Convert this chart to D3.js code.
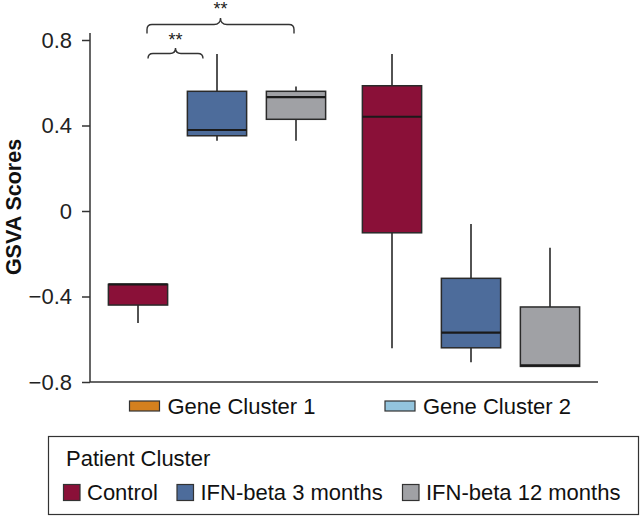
<!DOCTYPE html>
<html>
<head>
<meta charset="utf-8">
<script src="https://cdn.jsdelivr.net/npm/d3@7"></script>
<style>
  html, body { margin: 0; padding: 0; background: #fff; }
  svg { display: block; font-family: "Liberation Sans", Arial, Helvetica, sans-serif; }
</style>
</head>
<body>
<svg id="chart" width="640" height="516"></svg>
<script>
// ---------- data ----------
const geneClusters = ["Gene Cluster 1", "Gene Cluster 2"];
const patientClusters = ["Control", "IFN-beta 3 months", "IFN-beta 12 months"];
const patientColors = ["#8A1038", "#4D6C9B", "#A0A1A5"];
const geneColors = ["#D4801E", "#93C4DD"];
const yTicks = [0.8, 0.4, 0, -0.4, -0.8];
const yTickLabels = ["0.8", "0.4", "0", "\u22120.4", "\u22120.8"];

// per box, order: GC1 (Control, 3m, 12m), GC2 (Control, 3m, 12m)
const boxGene    = ["Gene Cluster 1","Gene Cluster 1","Gene Cluster 1","Gene Cluster 2","Gene Cluster 2","Gene Cluster 2"];
const boxPatient = ["Control","IFN-beta 3 months","IFN-beta 12 months","Control","IFN-beta 3 months","IFN-beta 12 months"];
const whiskerLow  = [-0.524, 0.329, 0.329, -0.642, -0.708, -0.727];
const quart1      = [-0.440, 0.352, 0.429, -0.102, -0.640, -0.727];
const medians     = [-0.343, 0.379, 0.533,  0.441, -0.569, -0.722];
const quart3      = [-0.343, 0.560, 0.560,  0.586, -0.315, -0.449];
const whiskerHigh = [-0.343, 0.734, 0.583,  0.734, -0.061, -0.172];

// significance brackets (from, to within Gene Cluster 1)
const sigFrom = ["Control", "Control"];
const sigTo   = ["IFN-beta 12 months", "IFN-beta 3 months"];
const sigText = ["**", "**"];

// ---------- layout ----------
const svg = d3.select("#chart");
const FONT = 22;
const axisX = 90, plotRight = 598;

const y = d3.scaleLinear().domain([-0.8, 0.8]).range([382, 40]);
const xGroup = d3.scalePoint().domain(geneClusters).range([axisX, plotRight]).padding(0.5);
const xInner = d3.scaleBand().domain(patientClusters).range([-118.5, 118.5])
  .paddingInner(0.25).paddingOuter(0.125);
const color = d3.scaleOrdinal().domain(patientClusters).range(patientColors);
const cx = (g, p) => xGroup(g) + xInner(p) + xInner.bandwidth() / 2;

// y axis
const yAxis = d3.axisLeft(y).tickValues(yTicks)
  .tickFormat((d, i) => yTickLabels[i]).tickSize(8).tickPadding(10);
const gy = svg.append("g").attr("transform", `translate(${axisX},0)`).call(yAxis);
gy.select(".domain").remove();
gy.append("line").attr("x1", 0).attr("x2", 0).attr("y1", y(0.833)).attr("y2", y(-0.8))
  .attr("stroke", "#333").attr("stroke-width", 1.5);
gy.selectAll(".tick line").attr("stroke", "#333").attr("stroke-width", 1.5);
gy.selectAll(".tick text").attr("font-size", FONT).attr("fill", "#222")
  .attr("font-family", "'Liberation Sans', Arial, sans-serif");

// x axis line
svg.append("line").attr("x1", axisX).attr("x2", plotRight).attr("y1", y(-0.8)).attr("y2", y(-0.8))
  .attr("stroke", "#333").attr("stroke-width", 1.5);

// y title
svg.append("text")
  .attr("transform", `translate(20.5,${(y(0.8) + y(-0.8)) / 2 - 4}) rotate(-90)`)
  .attr("text-anchor", "middle").attr("font-size", 21.5).attr("font-weight", "bold")
  .attr("fill", "#111").text("GSVA Scores");

// boxes
const boxes = boxGene.map((g, i) => ({
  g, p: boxPatient[i], lo: whiskerLow[i], q1: quart1[i], med: medians[i], q3: quart3[i], hi: whiskerHigh[i]
}));
const bw = xInner.bandwidth();
const bg = svg.append("g");
boxes.forEach(b => {
  const c = cx(b.g, b.p);
  if (b.hi > b.q3) bg.append("line").attr("x1", c).attr("x2", c).attr("y1", y(b.hi)).attr("y2", y(b.q3))
    .attr("stroke", "#1a1a1a").attr("stroke-width", 1.5);
  if (b.lo < b.q1) bg.append("line").attr("x1", c).attr("x2", c).attr("y1", y(b.q1)).attr("y2", y(b.lo))
    .attr("stroke", "#1a1a1a").attr("stroke-width", 1.5);
  bg.append("rect").attr("x", c - bw / 2).attr("width", bw)
    .attr("y", y(b.q3)).attr("height", y(b.q1) - y(b.q3))
    .attr("fill", color(b.p)).attr("stroke", "#2a2a2a").attr("stroke-width", 1.5);
  bg.append("line").attr("x1", c - bw / 2).attr("x2", c + bw / 2).attr("y1", y(b.med)).attr("y2", y(b.med))
    .attr("stroke", "#1a1a1a").attr("stroke-width", 2.2);
});

// significance brackets
function brace(x1, x2, yh, yb, tip) {
  const xm = (x1 + x2) / 2, r = Math.min(5, yb - yh), t = yh - tip;
  return `M${x1},${yb} L${x1},${yh + r} Q${x1},${yh} ${x1 + r},${yh} L${xm - t},${yh} Q${xm},${yh} ${xm},${tip}` +
         ` Q${xm},${yh} ${xm + t},${yh} L${x2 - r},${yh} Q${x2},${yh} ${x2},${yh + r} L${x2},${yb}`;
}
const braceSpecs = [
  { x1: cx(geneClusters[0], sigFrom[0]) + 9, x2: cx(geneClusters[0], sigTo[0]) - 2, yh: 24.5, yb: 33.5, tip: 18, ty: 15 },
  { x1: cx(geneClusters[0], sigFrom[1]) + 10, x2: cx(geneClusters[0], sigTo[1]) - 14, yh: 53.5, yb: 58.5, tip: 48, ty: 46 }
];
braceSpecs.forEach((s, i) => {
  svg.append("path").attr("d", brace(s.x1, s.x2, s.yh, s.yb, s.tip))
    .attr("fill", "none").attr("stroke", "#333").attr("stroke-width", 1.4);
  svg.append("text").attr("x", (s.x1 + s.x2) / 2).attr("y", s.ty).attr("text-anchor", "middle")
    .attr("font-size", 18).attr("fill", "#222").text(sigText[i]);
});

// gene cluster legend
const glX = [129.5, 385];
geneClusters.forEach((g, i) => {
  svg.append("rect").attr("x", glX[i]).attr("y", 401).attr("width", 30).attr("height", 10)
    .attr("fill", geneColors[i]).attr("stroke", "#333").attr("stroke-width", 1.2);
  svg.append("text").attr("x", glX[i] + 38).attr("y", 413.5).attr("font-size", FONT).attr("fill", "#111").text(g);
});

// patient cluster legend
svg.append("rect").attr("x", 48.5).attr("y", 436.5).attr("width", 590).attr("height", 78)
  .attr("fill", "none").attr("stroke", "#333").attr("stroke-width", 1.2);
svg.append("text").attr("x", 66).attr("y", 466).attr("font-size", FONT).attr("fill", "#111").text("Patient Cluster");
const plX = [63.5, 177, 402.5];
patientClusters.forEach((p, i) => {
  svg.append("rect").attr("x", plX[i]).attr("y", 484.5).attr("width", 16.5).attr("height", 16)
    .attr("fill", color(p)).attr("stroke", "#333").attr("stroke-width", 1.2);
  svg.append("text").attr("x", plX[i] + 23.5).attr("y", 499.5).attr("font-size", FONT).attr("fill", "#111").text(p);
});
</script>
</body>
</html>
